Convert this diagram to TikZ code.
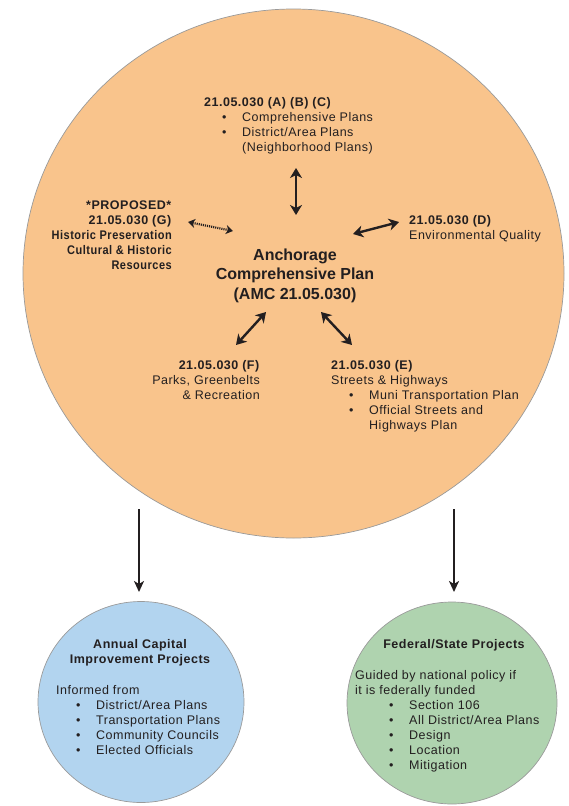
\documentclass[tikz,border=0pt]{standalone}
\usepackage{fontspec}
\setmainfont{Liberation Sans}[LetterSpace=4]
\usetikzlibrary{arrows.meta,shapes.geometric}
\definecolor{ink}{HTML}{231F20}
\definecolor{plan}{HTML}{F9C48C}
\definecolor{cip}{HTML}{B2D4EF}
\definecolor{fed}{HTML}{AFD3AF}
\definecolor{rim}{HTML}{9A9A9A}
\newcommand{\bitem}[2][18pt]{\hspace*{#1}\makebox[20pt][l]{\textbullet}#2}

\begin{document}
\begin{tikzpicture}[x=1pt,y=-1pt,
  bub/.style={draw=rim,line width=0.7pt,inner sep=0pt,ellipse},
  txt/.style={inner sep=0pt,text=ink,font=\fontsize{12.5}{15}\selectfont},
  dbl/.style={draw=ink,line width=2.4pt,{Stealth[length=10pt,width=12pt,inset=3pt]}-{Stealth[length=10pt,width=12pt,inset=3pt]}},
  dot/.style={draw=ink,line width=2.2pt,dash pattern=on 1.1pt off 1pt,{Stealth[length=7pt,width=9pt,inset=2pt]}-{Stealth[length=7pt,width=9pt,inset=2pt]}},
  down/.style={draw=ink,line width=2.4pt,-{Stealth[length=11pt,width=10pt,inset=3pt]}}]
\useasboundingbox (0,0) rectangle (568,806);

\node[bub,fill=plan,minimum width=541pt,minimum height=529pt] (acp) at (293.5,273.5) {};
\node[bub,fill=cip,minimum width=206pt,minimum height=201pt] (capital) at (141,702) {};
\node[bub,fill=fed,minimum width=210pt,minimum height=202pt] (federal) at (452,703) {};

\node[txt,anchor=base,font=\fontsize{16}{19.5}\selectfont\bfseries\addfontfeature{LetterSpace=0}] (title) at (295,260)
  {\begin{tabular}[t]{@{}c@{}}Anchorage\\Comprehensive Plan\\(AMC 21.05.030)\end{tabular}};

\node[txt,anchor=base west] (abc) at (204,106)
  {\begin{tabular}[t]{@{}l@{}}\textbf{21.05.030 (A) (B) (C)}\\
  \bitem{Comprehensive Plans}\\\bitem{District/Area Plans}\\\hspace*{38pt}(Neighborhood Plans)\end{tabular}};
\node[txt,anchor=base east] (g) at (172,209)
  {\begin{tabular}[t]{@{}r@{}}\textbf{*PROPOSED*}\\\textbf{21.05.030 (G)}\\
  {\bfseries\addfontfeature{FakeStretch=0.88}Historic Preservation}\\
  {\bfseries\addfontfeature{FakeStretch=0.88}Cultural \& Historic}\\
  {\bfseries\addfontfeature{FakeStretch=0.88}Resources}\end{tabular}};
\node[txt,anchor=base west] (d) at (409,224)
  {\begin{tabular}[t]{@{}l@{}}\textbf{21.05.030 (D)}\\Environmental Quality\end{tabular}};
\node[txt,anchor=base east] (f) at (260,369)
  {\begin{tabular}[t]{@{}r@{}}\textbf{21.05.030 (F)}\\Parks, Greenbelts\\\& Recreation\end{tabular}};
\node[txt,anchor=base west] (e) at (331,369)
  {\begin{tabular}[t]{@{}l@{}}\textbf{21.05.030 (E)}\\Streets \& Highways\\
  \bitem{Muni Transportation Plan}\\\bitem{Official Streets and}\\\hspace*{38pt}Highways Plan\end{tabular}};

\node[txt,anchor=base] (cipt) at (140,648)
  {\begin{tabular}[t]{@{}c@{}}\bfseries Annual Capital\\\bfseries Improvement Projects\end{tabular}};
\node[txt,anchor=base west] (cipl) at (56,694)
  {\begin{tabular}[t]{@{}l@{}}Informed from\\\bitem[20pt]{District/Area Plans}\\\bitem[20pt]{Transportation Plans}\\
  \bitem[20pt]{Community Councils}\\\bitem[20pt]{Elected Officials}\end{tabular}};
\node[txt,anchor=base] (fedt) at (454,648) {\bfseries Federal/State Projects};
\node[txt,anchor=base west] (fedl) at (355,679)
  {\begin{tabular}[t]{@{}l@{}}Guided by national policy if\\it is federally funded\\\bitem[34pt]{Section 106}\\
  \bitem[34pt]{All District/Area Plans}\\\bitem[34pt]{Design}\\\bitem[34pt]{Location}\\\bitem[34pt]{Mitigation}\end{tabular}};

\coordinate (u1) at (296,168); \coordinate (u2) at (296,215);
\coordinate (g1) at (188,222); \coordinate (g2) at (233,231);
\coordinate (d1) at (353,234); \coordinate (d2) at (399,222);
\coordinate (f1) at (236,345); \coordinate (f2) at (266,312);
\coordinate (e1) at (321,312); \coordinate (e2) at (352,345);
\coordinate (l1) at (139,509); \coordinate (l2) at (139,592);
\coordinate (r1) at (454,509); \coordinate (r2) at (454,592);

\draw[dbl] (u1)--(u2);
\draw[dot] (g1)--(g2);
\draw[dbl] (d1)--(d2);
\draw[dbl] (f1)--(f2);
\draw[dbl] (e1)--(e2);
\draw[down] (l1)--(l2);
\draw[down] (r1)--(r2);
\end{tikzpicture}
\end{document}
